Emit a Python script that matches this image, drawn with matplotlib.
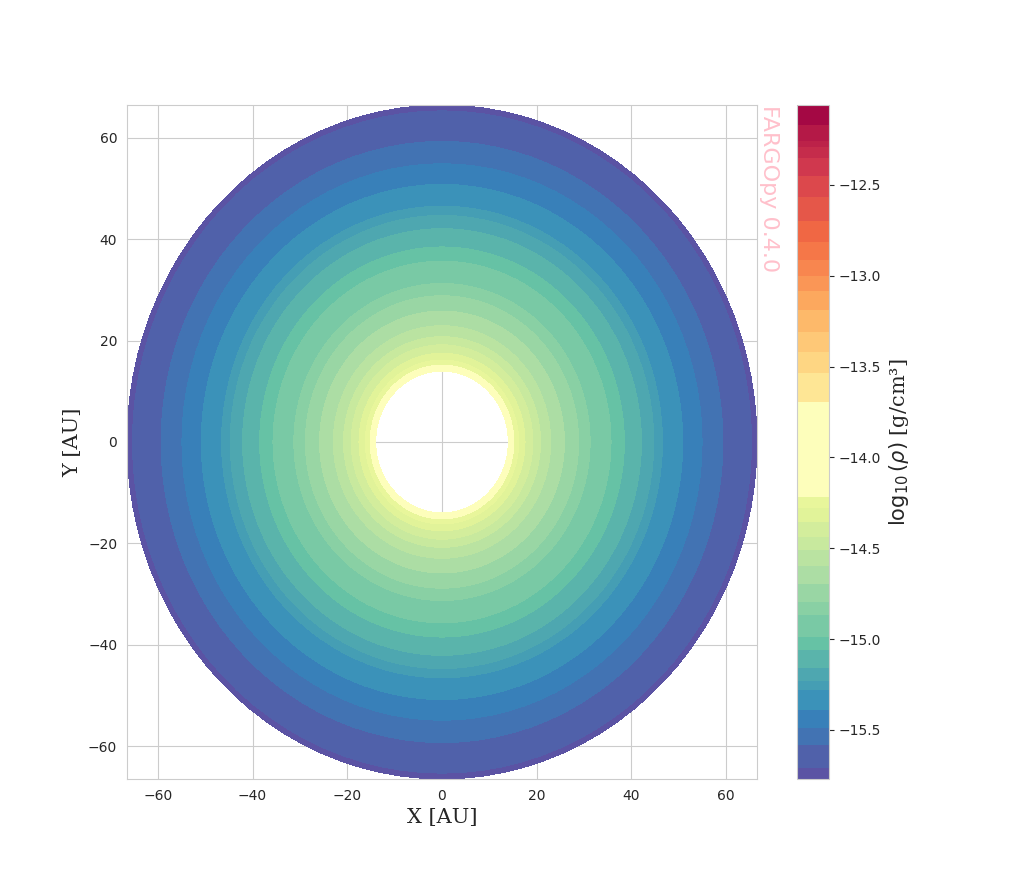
import numpy as np
import matplotlib
matplotlib.use("Agg")
import matplotlib.pyplot as plt
import seaborn as sns

sns.set_style("whitegrid")

radii = [14, 16, 18, 20, 23, 26, 30, 35, 40, 45, 50, 55, 60, 64, 66.5]
logrho = [-14.15, -14.27, -14.38, -14.48, -14.6, -14.7, -14.83, -14.97, -15.1,
          -15.24, -15.37, -15.49, -15.6, -15.68, -15.73]
levels = [-15.77, -15.707, -15.585, -15.488, -15.39, -15.28, -15.232, -15.159, -15.061,
          -14.988, -14.866, -14.793, -14.695, -14.598, -14.512, -14.439, -14.354,
          -14.28, -14.22, -13.695, -13.537, -13.422, -13.312, -13.19, -13.085,
          -13.0, -12.915, -12.812, -12.7, -12.568, -12.451, -12.354, -12.293,
          -12.256, -12.171, -12.06]

theta = np.linspace(0, 2 * np.pi, 97)
R, T = np.meshgrid(np.array(radii), theta)
Z = np.tile(np.array(logrho), (len(theta), 1))
X = R * np.cos(T)
Y = R * np.sin(T)

fig = plt.figure(figsize=(10.16, 8.76), dpi=100)
ax = fig.add_axes([127/1016, 1-779/876, 630/1016, 674/876])
cax = fig.add_axes([797/1016, 1-779/876, 32/1016, 674/876])

ax.set_axisbelow(True)
cs = ax.contourf(X, Y, Z, levels=levels, cmap="Spectral_r", vmin=levels[0], vmax=levels[-1], zorder=2)
ax.set_xlim(-66.5, 66.5)
ax.set_ylim(-66.5, 66.5)
ax.set_xticks([-60, -40, -20, 0, 20, 40, 60])
ax.set_yticks([-60, -40, -20, 0, 20, 40, 60])
ax.grid(True, color="#cccccc", lw=0.8, zorder=0)
ax.set_xlabel("X [AU]", family="DejaVu Serif", fontsize=15)
ax.set_ylabel("Y [AU]", family="DejaVu Serif", fontsize=15)
for s in ax.spines.values():
    s.set_color("#cccccc")
ax.tick_params(labelsize=10)

cb = fig.colorbar(cs, cax=cax, spacing="proportional")
cb.set_ticks([-15.5, -15.0, -14.5, -14.0, -13.5, -13.0, -12.5])
cb.ax.tick_params(labelsize=10)
cb.outline.set_edgecolor("#cccccc")
cb.set_label(r"$\log_{10}(\rho)$ [g/cm³]", fontsize=15, family="DejaVu Serif")

fig.text(759/1016, 1-105/876, "FARGOpy 0.4.0", rotation=270, color="pink",
         fontsize=16, va="top", ha="left")

fig.savefig("out.png", dpi=100)
